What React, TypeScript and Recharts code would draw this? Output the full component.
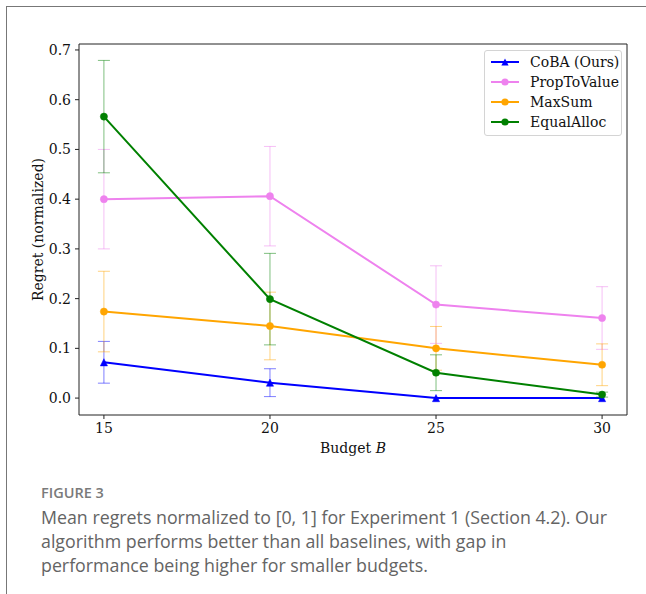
import React from 'react';
import { LineChart, Line, XAxis, YAxis, ErrorBar, ReferenceArea, Legend } from 'recharts';

const budgets = [15, 20, 25, 30];
const cobaMean = [0.072, 0.031, 0.0, 0.0];
const cobaErr = [0.042, 0.028, 0, 0];
const propMean = [0.4, 0.406, 0.188, 0.161];
const propErr = [0.1, 0.1, 0.078, 0.063];
const maxSumMean = [0.174, 0.145, 0.1, 0.067];
const maxSumErr = [0.081, 0.068, 0.044, 0.042];
const equalMean = [0.566, 0.199, 0.051, 0.007];
const equalErr = [0.113, 0.092, 0.036, 0.005];

const xTicks = [15, 20, 25, 30];
const yTicks = [0, 0.1, 0.2, 0.3, 0.4, 0.5, 0.6, 0.7];
const xDomain: [number, number] = [14.25, 30.75];
const yDomain: [number, number] = [-0.034, 0.712];

const data = budgets.map((b, i) => ({
  budget: b,
  coba: cobaMean[i],
  cobaE: cobaErr[i],
  prop: propMean[i],
  propE: propErr[i],
  maxsum: maxSumMean[i],
  maxsumE: maxSumErr[i],
  equal: equalMean[i],
  equalE: equalErr[i],
}));

const series = [
  { key: 'coba', name: 'CoBA (Ours)', color: '#0000ff', marker: 'triangle' },
  { key: 'prop', name: 'PropToValue', color: '#ee82ee', marker: 'circle' },
  { key: 'maxsum', name: 'MaxSum', color: '#ffa500', marker: 'circle' },
  { key: 'equal', name: 'EqualAlloc', color: '#008000', marker: 'circle' },
];

const FONT = '"DejaVu Serif", serif';

const makeDot = (color: string, marker: string) => (props: any) => {
  const { cx, cy, index } = props;
  if (cx == null || cy == null) return <g key={`d-${index}`} />;
  if (marker === 'triangle') {
    const s = 3.6;
    return (
      <polygon
        key={`d-${index}`}
        points={`${cx},${cy - s} ${cx - s},${cy + s} ${cx + s},${cy + s}`}
        fill={color}
        stroke={color}
        strokeWidth={0.5}
      />
    );
  }
  return <circle key={`d-${index}`} cx={cx} cy={cy} r={3.6} fill={color} stroke={color} strokeWidth={0.5} />;
};

const LegendIcon = ({ color, marker }: { color: string; marker: string }) => (
  <svg width={28} height={12} style={{ display: 'block' }}>
    <line x1={0} y1={6} x2={28} y2={6} stroke={color} strokeWidth={2} />
    {marker === 'triangle' ? (
      <polygon points="14,2.4 10.4,9.6 17.6,9.6" fill={color} />
    ) : (
      <circle cx={14} cy={6} r={3.6} fill={color} />
    )}
  </svg>
);

const renderLegend = () => (
  <div
    style={{
      width: 136,
      border: '1px solid #d4d4d4',
      borderRadius: 3,
      background: 'rgba(255,255,255,0.85)',
      padding: '1px 0 3px 0',
      boxSizing: 'content-box',
    }}
  >
    {series.map((s) => (
      <div
        key={s.key}
        style={{ display: 'flex', alignItems: 'center', height: 20, paddingLeft: 6 }}
      >
        <LegendIcon color={s.color} marker={s.marker} />
        <span
          style={{
            marginLeft: 11,
            fontFamily: FONT,
            fontSize: 14,
            color: '#111',
            whiteSpace: 'nowrap',
            lineHeight: '20px',
          }}
        >
          {s.name}
        </span>
      </div>
    ))}
  </div>
);

const YLabel = (props: any) => {
  const vb = props.viewBox || {};
  const cy = (vb.y ?? 44) + (vb.height ?? 371) / 2;
  const cx = 38;
  return (
    <text
      x={cx}
      y={cy}
      transform={`rotate(-90, ${cx}, ${cy})`}
      textAnchor="middle"
      dominantBaseline="central"
      fontFamily={FONT}
      fontSize={14}
      fill="#111"
    >
      Regret (normalized)
    </text>
  );
};

const XLabel = (props: any) => {
  const vb = props.viewBox || {};
  const cx = (vb.x ?? 79) + (vb.width ?? 548) / 2;
  return (
    <text
      x={cx}
      y={453}
      textAnchor="middle"
      fontFamily={FONT}
      fontSize={14}
      fill="#111"
    >
      Budget <tspan fontStyle="italic">B</tspan>
    </text>
  );
};

export default function App() {
  return (
    <div
      style={{
        position: 'absolute',
        left: 0,
        top: 0,
        width: 646,
        height: 594,
        background: '#fff',
        overflow: 'hidden',
      }}
    >
      <div
        style={{
          position: 'absolute',
          left: 6,
          top: 6,
          width: 700,
          height: 700,
          borderTop: '1.5px solid #777',
          borderLeft: '1.5px solid #777',
        }}
      />
      <div style={{ position: 'absolute', left: 0, top: 0 }}>
        <LineChart
          width={646}
          height={470}
          data={data}
          margin={{ top: 44, right: 19, left: 0, bottom: 0 }}
        >
          <XAxis
            dataKey="budget"
            type="number"
            domain={xDomain}
            ticks={xTicks}
            allowDataOverflow
            height={55}
            axisLine={false}
            tickLine={{ stroke: '#222' }}
            tickSize={4}
            tickMargin={4}
            tick={{ fontFamily: FONT, fontSize: 14, fill: '#111' }}
            label={<XLabel />}
          />
          <YAxis
            type="number"
            domain={yDomain}
            ticks={yTicks}
            allowDataOverflow
            width={79}
            axisLine={false}
            tickLine={{ stroke: '#222' }}
            tickSize={4}
            tickMargin={4}
            tickFormatter={(v: number) => v.toFixed(1)}
            tick={{ fontFamily: FONT, fontSize: 14, fill: '#111' }}
            label={<YLabel />}
          />
          <ReferenceArea
            x1={xDomain[0]}
            x2={xDomain[1]}
            y1={yDomain[0]}
            y2={yDomain[1]}
            fill="none"
            fillOpacity={0}
            stroke="#222"
            strokeWidth={1}
            ifOverflow="visible"
          />
          {series.map((s) => (
            <Line
              key={s.key}
              dataKey={s.key}
              name={s.name}
              type="linear"
              stroke={s.color}
              strokeWidth={2}
              dot={makeDot(s.color, s.marker)}
              activeDot={false}
              isAnimationActive={false}
            >
              <ErrorBar
                dataKey={`${s.key}E`}
                direction="y"
                width={6}
                stroke={s.color}
                strokeOpacity={0.5}
                strokeWidth={1}
              />
            </Line>
          ))}
          <Legend
            layout="vertical"
            align="center"
            verticalAlign="middle"
            content={renderLegend}
            wrapperStyle={{ left: 484, top: 50, width: 138, right: 'auto', bottom: 'auto' }}
          />
        </LineChart>
      </div>
      <div
        style={{
          position: 'absolute',
          left: 41,
          top: 483,
          fontFamily: '"Open Sans", sans-serif',
          fontSize: 14.5,
          fontWeight: 600,
          color: '#7a7a7a',
          lineHeight: '20px',
        }}
      >
        FIGURE 3
      </div>
      <div
        style={{
          position: 'absolute',
          left: 41,
          top: 505,
          fontFamily: '"Open Sans", sans-serif',
          fontSize: 17.8,
          color: '#646464',
          lineHeight: '24px',
          whiteSpace: 'nowrap',
        }}
      >
        Mean regrets normalized to [0, 1] for Experiment 1 (Section 4.2). Our
        <br />
        algorithm performs better than all baselines, with gap in
        <br />
        performance being higher for smaller budgets.
      </div>
    </div>
  );
}
